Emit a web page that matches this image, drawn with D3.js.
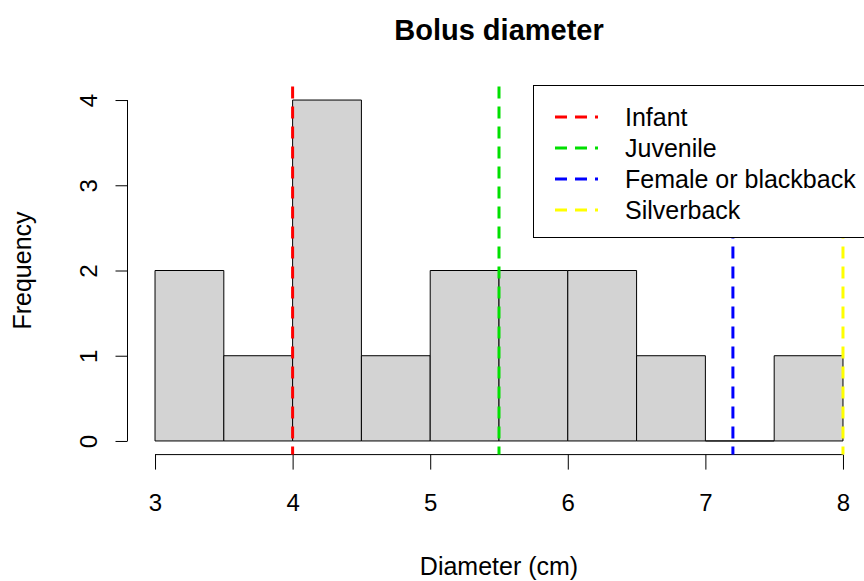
<!DOCTYPE html>
<html>
<head>
<meta charset="utf-8">
<script src="https://cdn.jsdelivr.net/npm/d3@7"></script>
<style>
  body { margin: 0; background: #fff; }
  svg { font-family: "Liberation Sans", Arial, sans-serif; }
</style>
</head>
<body>
<div id="chart"></div>
<script>
const width = 864;
const height = 581;

// Histogram bins (cm) and counts
const binStarts = [3, 3.5, 4, 4.5, 5, 5.5, 6, 6.5, 7, 7.5];
const binWidth = 0.5;
const counts = [2, 1, 4, 1, 2, 2, 2, 1, 0, 1];

// Reference lines
const groupNames = ["Infant", "Juvenile", "Female or blackback", "Silverback"];
const groupValues = [4, 5.5, 7.2, 8];
const groupColors = ["#ff0000", "#00e000", "#0000ff", "#ffff00"];

const xTicks = [3, 4, 5, 6, 7, 8];
const yTicks = [0, 1, 2, 3, 4];

// R-style plot region: data range padded by 4%
const x = d3.scaleLinear().domain([2.8, 8.2]).range([127.5, 870.5]);
const y = d3.scaleLinear().domain([-0.16, 4.16]).range([454.6, 86.4]);

const svg = d3.select("#chart")
  .append("svg")
  .attr("width", width)
  .attr("height", height);

// Bars (paths so that empty bins still show their base line)
svg.append("g")
  .selectAll("path")
  .data(binStarts)
  .join("path")
  .attr("d", (d, i) => {
    const x0 = x(d), x1 = x(d + binWidth), y0 = y(0), y1 = y(counts[i]);
    return `M${x0},${y0}V${y1}H${x1}V${y0}Z`;
  })
  .attr("fill", "#d3d3d3")
  .attr("stroke", "#000")
  .attr("stroke-width", 1);

// X axis
const xAxis = svg.append("g")
  .attr("transform", `translate(0, ${y(-0.16)})`)
  .call(d3.axisBottom(x).tickValues(xTicks).tickFormat(d3.format("d"))
    .tickSize(15).tickPadding(24).tickSizeOuter(0));
xAxis.select(".domain").attr("d", `M${x(3)},0H${x(8)}`);

// Y axis
const yAxis = svg.append("g")
  .attr("transform", `translate(${x(2.8)}, 0)`)
  .call(d3.axisLeft(y).tickValues(yTicks).tickFormat(d3.format("d"))
    .tickSize(12).tickSizeOuter(0));
yAxis.select(".domain").attr("d", `M0,${y(0)}V${y(4)}`);
yAxis.selectAll(".tick text")
  .attr("transform", "rotate(-90)")
  .attr("x", 0)
  .attr("y", -39)
  .attr("dy", "0.35em")
  .style("text-anchor", "middle");

svg.selectAll(".tick text")
  .style("font-size", "24px")
  .attr("fill", "#000")
  .style("font-family", "Liberation Sans, Arial, sans-serif");
svg.selectAll(".domain, .tick line").attr("stroke", "#000").attr("stroke-width", 1);

// Reference lines
svg.append("g")
  .selectAll("line")
  .data(groupValues)
  .join("line")
  .attr("x1", d => x(d))
  .attr("x2", d => x(d))
  .attr("y1", y(4.16))
  .attr("y2", y(-0.16))
  .attr("stroke", (d, i) => groupColors[i])
  .attr("stroke-width", 3)
  .attr("stroke-dasharray", "12,8");

// Legend
const legend = svg.append("g");
legend.append("rect")
  .attr("x", 533.5)
  .attr("y", 85.5)
  .attr("width", 345)
  .attr("height", 152)
  .attr("fill", "#fff")
  .attr("stroke", "#000");

const rows = legend.selectAll("g.row")
  .data(groupNames)
  .join("g")
  .attr("class", "row")
  .attr("transform", (d, i) => `translate(0, ${117 + i * 31})`);

rows.append("line")
  .attr("x1", 555)
  .attr("x2", 598)
  .attr("stroke", (d, i) => groupColors[i])
  .attr("stroke-width", 3)
  .attr("stroke-dasharray", "12,8");

rows.append("text")
  .attr("x", 625)
  .attr("dy", "0.35em")
  .style("font-size", "25px")
  .text(d => d);

// Title and axis labels
svg.append("text")
  .attr("x", 499)
  .attr("y", 40)
  .style("text-anchor", "middle")
  .style("font-size", "29px")
  .style("font-weight", "bold")
  .text("Bolus diameter");

svg.append("text")
  .attr("x", 499)
  .attr("y", 575)
  .style("text-anchor", "middle")
  .style("font-size", "25px")
  .text("Diameter (cm)");

svg.append("text")
  .attr("transform", `translate(31, ${y(2)}) rotate(-90)`)
  .style("text-anchor", "middle")
  .style("font-size", "25px")
  .text("Frequency");
</script>
</body>
</html>
